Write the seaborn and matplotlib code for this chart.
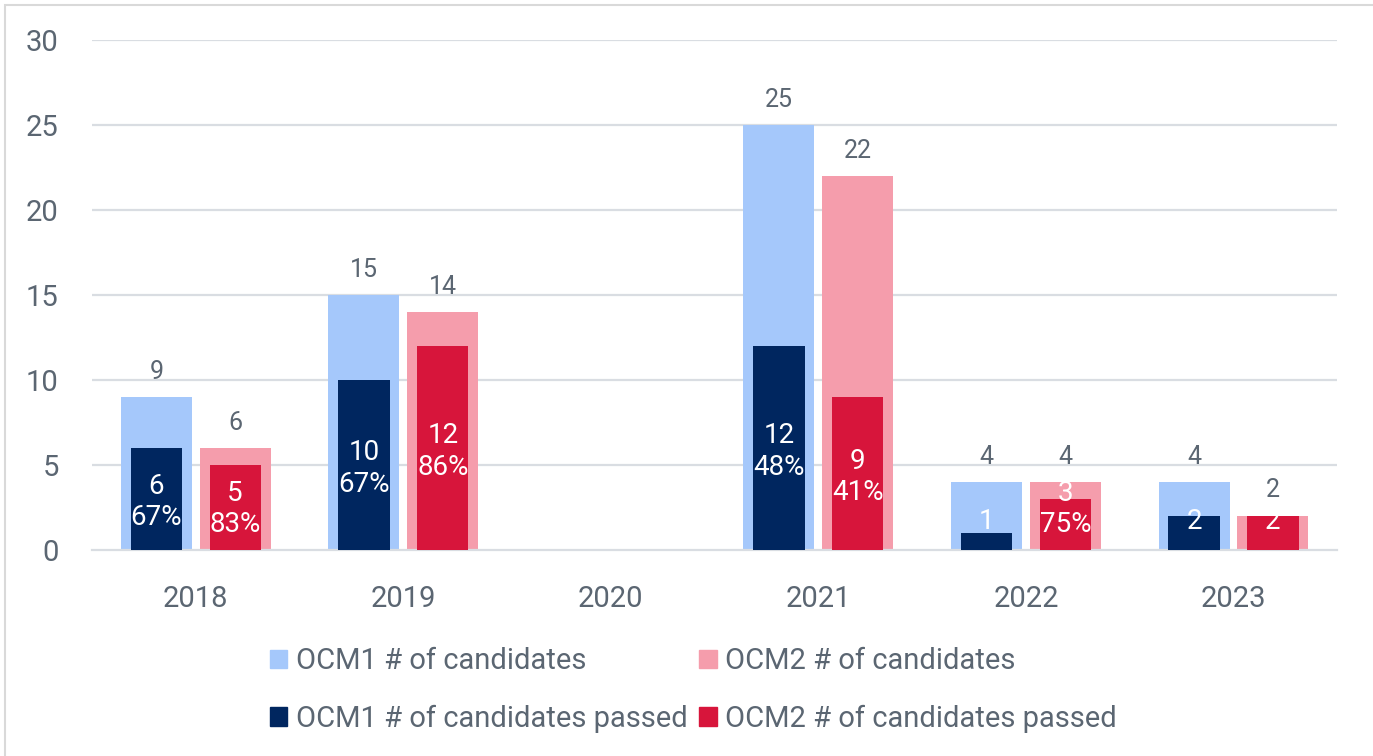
import numpy as np
import pandas as pd
import matplotlib
matplotlib.use("Agg")
import matplotlib.pyplot as plt
from matplotlib.patches import Patch, Rectangle
import seaborn as sns

# Chart data
years = ["2018", "2019", "2020", "2021", "2022", "2023"]
ocm1_candidates = [9, 15, 0, 25, 4, 4]
ocm2_candidates = [6, 14, 0, 22, 4, 2]
ocm1_passed = [6, 10, 0, 12, 1, 2]
ocm2_passed = [5, 12, 0, 9, 3, 2]
ocm1_pass_pct = ["67%", "67%", "", "48%", "", ""]
ocm2_pass_pct = ["83%", "86%", "", "41%", "75%", ""]
y_ticks = [0, 5, 10, 15, 20, 25, 30]

series_names = ["OCM1 # of candidates", "OCM2 # of candidates",
                "OCM1 # of candidates passed", "OCM2 # of candidates passed"]
colors = ["#a5c8fb", "#f59dac", "#00265f", "#d7153b"]
text_col = "#5b6672"
grid_col = "#d9dde2"

sns.set_theme(style="white")
plt.rcParams["font.family"] = ["Roboto", "DejaVu Sans"]

cand_df = pd.DataFrame({
    "year": years * 2,
    "count": ocm1_candidates + ocm2_candidates,
    "series": [series_names[0]] * len(years) + [series_names[1]] * len(years),
})
pass_df = pd.DataFrame({
    "year": years * 2,
    "count": ocm1_passed + ocm2_passed,
    "series": [series_names[2]] * len(years) + [series_names[3]] * len(years),
})

fig = plt.figure(figsize=(13.73, 7.56), dpi=100)
ax = fig.add_axes([0.067, 0.2725, 0.907, 0.6745])

for y in y_ticks[1:]:
    ax.axhline(y, color=grid_col, lw=1.6, zorder=0)

sns.barplot(data=cand_df, x="year", y="count", hue="series", order=years,
            hue_order=series_names[:2], palette=colors[:2], saturation=1,
            width=0.76, gap=0.1, linewidth=0, legend=False, ax=ax, zorder=2)
sns.barplot(data=pass_df, x="year", y="count", hue="series", order=years,
            hue_order=series_names[2:], palette=colors[2:], saturation=1,
            width=0.76, gap=0.35, linewidth=0, legend=False, ax=ax, zorder=3)

off = 0.19
for i in range(len(years)):
    for dx, cand, passed, pct in [(-off, ocm1_candidates[i], ocm1_passed[i], ocm1_pass_pct[i]),
                                  (off, ocm2_candidates[i], ocm2_passed[i], ocm2_pass_pct[i])]:
        if cand == 0:
            continue
        ax.text(i + dx, cand + 1.5, str(cand), ha="center", va="center",
                fontsize=18, color=text_col, zorder=5)
        if pct:
            ax.text(i + dx, max(passed / 2, 2.6) - 0.2, f"{passed}\n{pct}", ha="center",
                    va="center", fontsize=20, color="white", linespacing=1.2, zorder=5)
        else:
            ax.text(i + dx, max(passed / 2, 1.7), str(passed), ha="center",
                    va="center", fontsize=20, color="white", zorder=5)

ax.set_ylim(0, 30)
ax.set_xlim(-0.5, len(years) - 0.5)
ax.set_yticks(y_ticks)
ax.set_xlabel("")
ax.set_ylabel("")
for s in ["top", "right", "left"]:
    ax.spines[s].set_visible(False)
ax.spines["bottom"].set_color(grid_col)
ax.spines["bottom"].set_linewidth(1.6)
ax.tick_params(axis="y", length=0, pad=24, labelsize=21, labelcolor=text_col)
ax.tick_params(axis="x", length=0, pad=25, labelsize=21, labelcolor=text_col)

handles = [Patch(color=colors[0]), Patch(color=colors[2]),
           Patch(color=colors[1]), Patch(color=colors[3])]
labels = [series_names[0], series_names[2], series_names[1], series_names[3]]
fig.legend(handles, labels, loc="center", bbox_to_anchor=(0.505, 0.0875), ncol=2,
           frameon=False, fontsize=21, labelcolor=text_col, handlelength=0.6,
           handleheight=0.6, handletextpad=0.3, columnspacing=0.4, labelspacing=1.0)

fig.patches.append(Rectangle((0.004, -0.01), 1.1, 1.003, transform=fig.transFigure,
                             fill=False, edgecolor="#d9d9d9", lw=1.5))

fig.savefig("out.png", dpi=100)
